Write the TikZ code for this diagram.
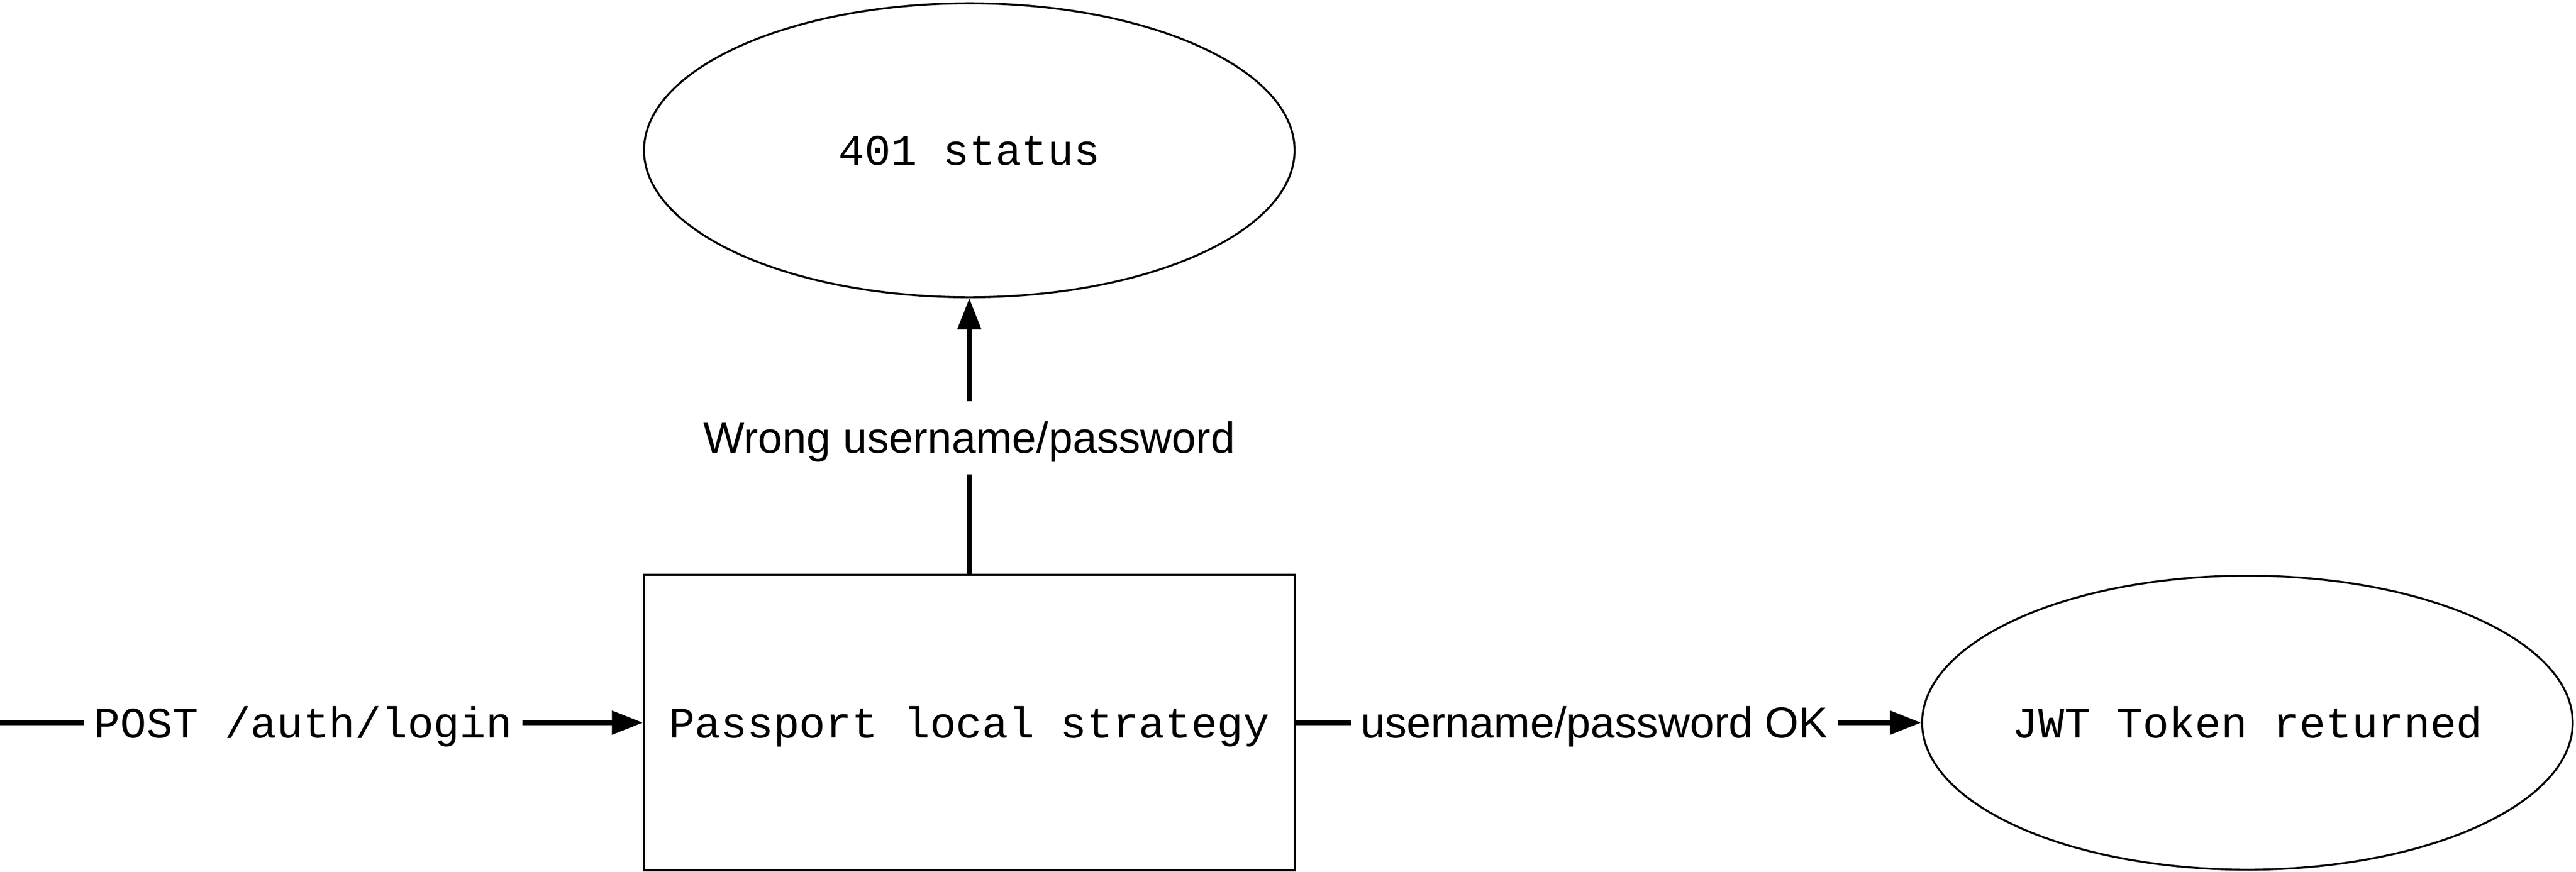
\documentclass[tikz,border=0pt]{standalone}
\usepackage{fontspec}
\setmainfont{Liberation Sans}
\setmonofont{Liberation Mono}
\usetikzlibrary{shapes.geometric,arrows.meta}
\begin{document}
\begin{tikzpicture}[x=1pt,y=1pt,
  capbox/.style={text height=18.3pt,text depth=0pt},
  statenode/.style={draw,line width=1.2pt,ellipse,minimum width=396pt,minimum height=179pt,inner sep=0pt,capbox,font=\ttfamily\fontsize{26.5}{32}\selectfont},
  procbox/.style={draw,line width=1.2pt,rectangle,minimum width=396pt,minimum height=180pt,inner sep=0pt,capbox,font=\ttfamily\fontsize{26.5}{32}\selectfont},
  monolbl/.style={inner xsep=6pt,inner ysep=2pt,capbox,font=\ttfamily\fontsize{26.5}{32}\selectfont},
  sanslbl/.style={inner xsep=6pt,inner ysep=2pt,capbox,font=\fontsize{26.5}{32}\selectfont},
  conn/.style={line width=3pt},
  arr/.style={line width=3pt,-{Triangle[length=19pt,width=14pt]}}
]
\useasboundingbox (0,0) rectangle (1568,-530.7);
\node[statenode] (st401) at (590,-91.5) {\makebox[0pt]{401 status}};
\node[procbox] (pass) at (590,-440) {\makebox[0pt]{Passport local strategy}};
\node[statenode] (jwt) at (1368,-440) {\makebox[0pt]{JWT Token returned}};
\coordinate (start) at (0,-440);
\node[monolbl] (post) at (184.5,-440) {POST /auth/login};
\node[sanslbl] (ok) at (970.5,-440) {username/password OK};
\node[sanslbl,inner ysep=0pt,minimum height=44pt] (wrong) at (590,-266.5) {Wrong username/password};
\draw[conn] (start) -- (post.west);
\draw[arr] (post.east) -- (pass.west);
\draw[conn] (pass.east) -- (ok.west);
\draw[arr] (ok.east) -- (jwt.west);
\draw[conn] (pass.north) -- (wrong.south);
\draw[arr] (wrong.north) -- (st401.south);
\end{tikzpicture}
\end{document}
